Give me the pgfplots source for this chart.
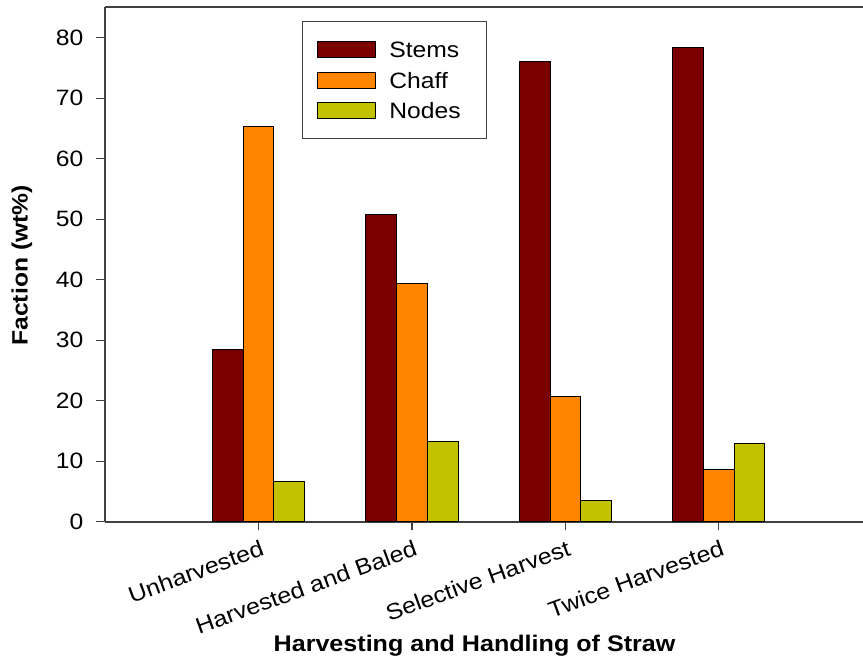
\documentclass[border=0pt]{standalone}
\usepackage{fontspec}
\setmainfont{Liberation Sans}[FakeStretch=1.11]
\usepackage{pgfplots}
\pgfplotsset{compat=1.18}
\pgfplotsset{legend image code/.code={\draw[#1] (0bp,-8bp) rectangle (58bp,8bp);}}
\definecolor{stems}{HTML}{7A0000}
\definecolor{chaff}{HTML}{FF8400}
\definecolor{nodes}{HTML}{C2C200}
\definecolor{axgray}{HTML}{404040}
\newcommand{\fs}{\fontsize{22.3}{24}\selectfont}
\begin{document}
\begin{tikzpicture}
\begin{axis}[
  scale only axis, width=758bp, height=514.7bp,
  xmin=-1, xmax=3.94, ymin=0, ymax=85.07,
  axis x line*=bottom, axis y line*=left,
  axis line style={axgray, line width=1.6bp},
  ytick={0,10,...,80}, xtick={0,1,2,3},
  xticklabels={Unharvested, Harvested and Baled, Selective Harvest, Twice Harvested},
  tick align=outside, major tick length=8.5bp,
  tick style={axgray, line width=1.3bp},
  /pgf/number format/assume math mode=true,
  yticklabel style={font=\fs, inner xsep=3bp, xshift=-10bp},
  xticklabel style={font=\fontsize{22.6}{24}\selectfont, rotate=20, anchor=north east, inner sep=2bp, xshift=0bp, yshift=-7bp},
  xlabel={Harvesting and Handling of Straw},
  xlabel style={font=\bfseries\fontsize{22.7}{24}\selectfont, at={(axis description cs:0.4875,0)}, anchor=base, yshift=-129.3bp},
  ylabel={Faction (wt\%)},
  ylabel style={font=\bfseries\fs, at={(axis description cs:-0.1095,0.498)}, anchor=center},
  legend style={at={(0.26,0.9728)}, anchor=north west, draw=axgray, line width=1bp,
    font=\fs, inner xsep=14bp, inner ysep=16bp, row sep=6.5bp, column sep=12bp,
    nodes={text height=20bp, text depth=4bp, inner ysep=0bp}},
  legend cell align=left,
]
\addplot[ybar, bar width=0.2, bar shift=-0.2, fill=stems, draw=black, line width=0.8bp]
  coordinates {(0,28.4) (1,50.8) (2,76.0) (3,78.4)};
\addplot[ybar, bar width=0.2, bar shift=0, fill=chaff, draw=black, line width=0.8bp]
  coordinates {(0,65.3) (1,39.4) (2,20.7) (3,8.7)};
\addplot[ybar, bar width=0.2, bar shift=0.2, fill=nodes, draw=black, line width=0.8bp]
  coordinates {(0,6.6) (1,13.2) (2,3.5) (3,13.0)};
\legend{Stems,Chaff,Nodes\hspace{10bp}\mbox{}}
\draw[axgray, line width=1.6bp] (rel axis cs:0,1) -- (rel axis cs:1,1);
\end{axis}
\pgfresetboundingbox
\path (-105bp,-138.3bp) rectangle (758bp,521.7bp);
\end{tikzpicture}
\end{document}
